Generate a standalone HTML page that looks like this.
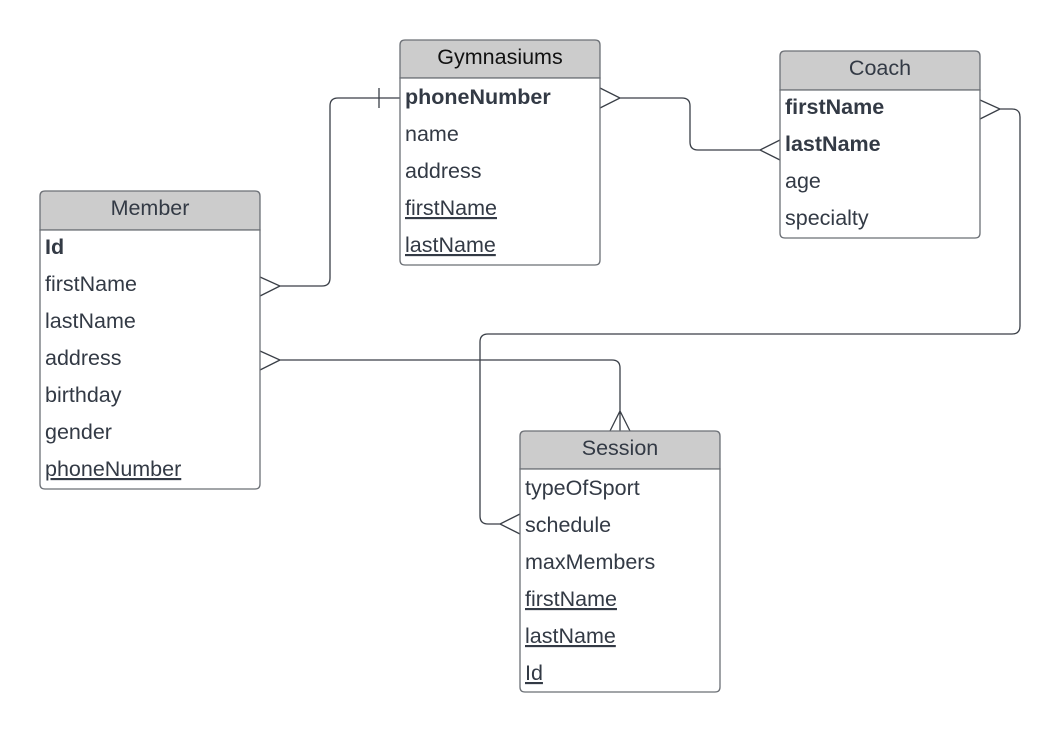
<!DOCTYPE html>
<html><head><meta charset="utf-8"><style>
html,body{margin:0;padding:0;background:#fff;}
svg{display:block;}
text{font-family:"Liberation Sans",Arial,sans-serif;font-size:21.5px;fill:#333a45;}
.h{text-anchor:middle;}
.b{font-weight:bold;}
.u{text-decoration:underline;}
</style></head><body>
<svg width="1061" height="733" viewBox="0 0 1061 733" xmlns="http://www.w3.org/2000/svg">
<g fill="none" stroke="#3a3f47" stroke-width="1.3">
<path d="M260 277 L280 286 L260 296 M280 286 L322 286 Q330 286 330 278 L330 106 Q330 98 338 98 L400 98 M379 88 L379 108"/>
<path d="M600 88 L620 98 L600 108 M620 98 L682 98 Q690 98 690 106 L690 142 Q690 150 698 150 L760 150 M780 140 L760 150 L780 160"/>
<path d="M980 100 L1000 109 L980 119 M1000 109 L1012 109 Q1020 109 1020 117 L1020 326 Q1020 334 1012 334 L488 334 Q480 334 480 342 L480 516 Q480 524 488 524 L500 524 M520 514 L500 524 L520 534"/>
<path d="M260 351 L280 360 L260 370 M280 360 L612 360 Q620 360 620 368 L620 431 M610 431 L620 411 L630 431"/>
</g>
<g stroke="#6b6f75" stroke-width="1.3">
<path d="M400 78 L400 45 Q400 40 405 40 L595 40 Q600 40 600 45 L600 78 Z" fill="#cccccc"/>
<path d="M400 78 L600 78 L600 260 Q600 265 595 265 L405 265 Q400 265 400 260 Z" fill="#fff"/>
<path d="M780 90 L780 56 Q780 51 785 51 L975 51 Q980 51 980 56 L980 90 Z" fill="#cccccc"/>
<path d="M780 90 L980 90 L980 233 Q980 238 975 238 L785 238 Q780 238 780 233 Z" fill="#fff"/>
<path d="M40 230 L40 196 Q40 191 45 191 L255 191 Q260 191 260 196 L260 230 Z" fill="#cccccc"/>
<path d="M40 230 L260 230 L260 484 Q260 489 255 489 L45 489 Q40 489 40 484 Z" fill="#fff"/>
<path d="M520 469 L520 436 Q520 431 525 431 L715 431 Q720 431 720 436 L720 469 Z" fill="#cccccc"/>
<path d="M520 469 L720 469 L720 687 Q720 692 715 692 L525 692 Q520 692 520 687 Z" fill="#fff"/>
</g>
<text x="500" y="64" class="h" style="fill:#111">Gymnasiums</text>
<text x="405" y="104" class="b">phoneNumber</text>
<text x="405" y="141">name</text>
<text x="405" y="178">address</text>
<text x="405" y="215" class="u">firstName</text>
<text x="405" y="252" class="u">lastName</text>

<text x="880" y="75" class="h">Coach</text>
<text x="785" y="114" class="b">firstName</text>
<text x="785" y="151" class="b">lastName</text>
<text x="785" y="188">age</text>
<text x="785" y="225">specialty</text>

<text x="150" y="215" class="h">Member</text>
<text x="45" y="254" class="b">Id</text>
<text x="45" y="291">firstName</text>
<text x="45" y="328">lastName</text>
<text x="45" y="365">address</text>
<text x="45" y="402">birthday</text>
<text x="45" y="439">gender</text>
<text x="45" y="476" class="u">phoneNumber</text>

<text x="620" y="455" class="h">Session</text>
<text x="525" y="495">typeOfSport</text>
<text x="525" y="532">schedule</text>
<text x="525" y="569">maxMembers</text>
<text x="525" y="606" class="u">firstName</text>
<text x="525" y="643" class="u">lastName</text>
<text x="525" y="680" class="u">Id</text>
</svg>
</body></html>
